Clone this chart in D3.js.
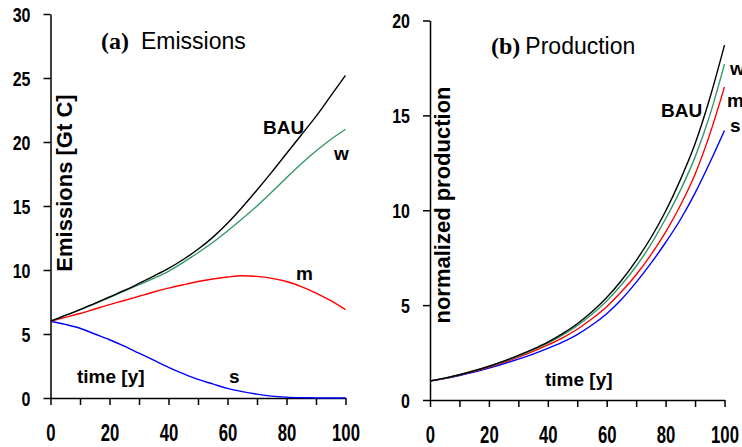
<!DOCTYPE html>
<meta charset="utf-8">
<style>
  body { margin: 0; background: #fff; }
  svg { display: block; }
  .axis path, .axis line { stroke: #000; stroke-width: 1.5px; }
  .axis text {
    font-family: "Liberation Sans Narrow", "Arial Narrow", "Liberation Sans", sans-serif;
    font-weight: bold;
    fill: #000;
  }
  .ylab { font-family: "Liberation Sans", Arial, sans-serif; font-weight: bold; font-size: 22px; }
  .lab { font-family: "Liberation Sans", Arial, sans-serif; font-weight: bold; font-size: 19px; }
  .ttl { font-family: "Liberation Sans", Arial, sans-serif; font-size: 23px; }
  .ttl-tag { font-family: "Liberation Serif", "Times New Roman", serif; font-weight: bold; font-size: 24px; }
  .series { fill: none; stroke-width: 1.4px; }
</style>
<body>
<svg id="chart" width="742" height="447"></svg>
<script src="https://d3js.org/d3.v7.min.js"></script>
<script>
// time axis, every 5 years
const years = d3.range(0, 101, 5);

// (a) emissions, Gt C
const emBAU = [6.0, 6.45, 6.9, 7.4, 7.9, 8.4, 8.95, 9.52, 10.12, 10.82, 11.62, 12.55, 13.65, 14.9, 16.25, 17.65, 19.1, 20.55, 22.0, 23.6, 25.2];
const emW   = [6.0, 6.45, 6.9, 7.35, 7.85, 8.35, 8.85, 9.35, 9.9, 10.6, 11.35, 12.15, 13.05, 14.0, 15.0, 16.1, 17.2, 18.3, 19.3, 20.2, 21.0];
const emM   = [6.0, 6.3, 6.6, 6.95, 7.3, 7.62, 7.95, 8.28, 8.58, 8.85, 9.1, 9.3, 9.45, 9.55, 9.5, 9.35, 9.1, 8.7, 8.2, 7.6, 6.9];
const emS   = [6.0, 5.75, 5.45, 5.0, 4.55, 4.05, 3.5, 2.95, 2.4, 1.9, 1.45, 1.1, 0.75, 0.5, 0.3, 0.15, 0.07, 0.03, 0.01, 0, 0];

// (b) normalized production
const prBAU = [1.0, 1.15, 1.33, 1.54, 1.78, 2.05, 2.35, 2.68, 3.05, 3.5, 4.02, 4.65, 5.4, 6.3, 7.35, 8.55, 9.95, 11.6, 13.5, 15.9, 18.7];
const prW   = [1.0, 1.15, 1.33, 1.54, 1.77, 2.03, 2.32, 2.64, 3.0, 3.42, 3.92, 4.52, 5.22, 6.07, 7.05, 8.2, 9.55, 11.05, 12.8, 15.0, 17.7];
const prM   = [1.0, 1.14, 1.31, 1.51, 1.73, 1.98, 2.26, 2.56, 2.9, 3.28, 3.73, 4.28, 4.92, 5.7, 6.6, 7.65, 8.85, 10.25, 11.9, 14.0, 16.5];
const prS   = [1.0, 1.13, 1.29, 1.47, 1.68, 1.91, 2.15, 2.42, 2.72, 3.05, 3.45, 3.95, 4.55, 5.3, 6.2, 7.2, 8.3, 9.5, 10.9, 12.5, 14.2];

const colors = { BAU: "#000000", w: "#339966", m: "#ff0000", s: "#0000ff" };

const svg = d3.select("#chart");

// squeeze tick labels to look like a narrow bold face
function narrow(sel, perDigit) {
  sel.each(function() {
    const s = d3.select(this).text();
    if (s) d3.select(this).attr("textLength", s.length * perDigit).attr("lengthAdjust", "spacingAndGlyphs");
  });
}

function panel(opt) {
  const x = d3.scaleLinear().domain([0, 100]).range(opt.xr);
  const y = d3.scaleLinear().domain([0, opt.ymax]).range(opt.yr);
  const g = svg.append("g");

  // y axis
  const ya = g.append("g").attr("class", "axis")
    .attr("transform", `translate(${opt.xr[0]},0)`)
    .call(d3.axisLeft(y).tickValues(d3.range(0, opt.ymax + 1, 5)).tickSize(7).tickSizeOuter(0).tickPadding(13));
  ya.selectAll("text").style("font-size", "20px").attr("dy", "0.36em");
  narrow(ya.selectAll("text"), 8.9);

  // x axis, ticks every 10, labels every 20
  const xa = g.append("g").attr("class", "axis")
    .attr("transform", `translate(0,${opt.yr[0]})`)
    .call(d3.axisBottom(x).tickValues(d3.range(0, 101, 10)).tickSize(7).tickSizeOuter(0)
      .tickFormat(d => d % 20 === 0 ? d : ""));
  xa.selectAll("text").style("font-size", "23px").attr("y", 43).attr("dy", null);
  narrow(xa.selectAll("text"), 9.3);

  const line = d3.line().x((d, i) => x(years[i])).y(d => y(d)).curve(d3.curveMonotoneX);
  opt.series.forEach(s => {
    g.append("path").attr("class", "series").attr("d", line(s.v)).attr("stroke", colors[s.k]);
  });

  // titles and labels
  const t = g.append("text").attr("x", opt.title[0]).attr("y", opt.title[1]);
  t.append("tspan").attr("class", "ttl-tag").text(opt.tag);
  t.append("tspan").attr("class", "ttl").attr("dx", opt.tagGap).text(opt.name);

  g.append("text").attr("class", "ylab")
    .attr("transform", `translate(${opt.ylab[0]},${opt.ylab[1]}) rotate(-90)`)
    .attr("text-anchor", "middle").text(opt.ylabel);

  opt.labels.forEach(l => {
    g.append("text").attr("class", "lab").attr("x", l[1]).attr("y", l[2]).text(l[0]);
  });
}

panel({
  xr: [50.5, 345.5], yr: [398, 14], ymax: 30,
  tag: "(a)", name: "Emissions", tagGap: 12, title: [101, 49],
  ylabel: "Emissions [Gt C]", ylab: [72, 183],
  series: [{ k: "s", v: emS }, { k: "m", v: emM }, { k: "w", v: emW }, { k: "BAU", v: emBAU }],
  labels: [["BAU", 263, 134], ["w", 334, 160], ["m", 296, 280], ["s", 229, 383], ["time [y]", 77, 383]]
});

panel({
  xr: [430, 724.5], yr: [400, 20.5], ymax: 20,
  tag: "(b)", name: "Production", tagGap: 5, title: [491, 54],
  ylabel: "normalized production", ylab: [450, 205],
  series: [{ k: "s", v: prS }, { k: "m", v: prM }, { k: "w", v: prW }, { k: "BAU", v: prBAU }],
  labels: [["BAU", 661, 117], ["w", 730, 75], ["m", 727, 107], ["s", 730, 132], ["time [y]", 545, 386]]
});
</script>
</body>
